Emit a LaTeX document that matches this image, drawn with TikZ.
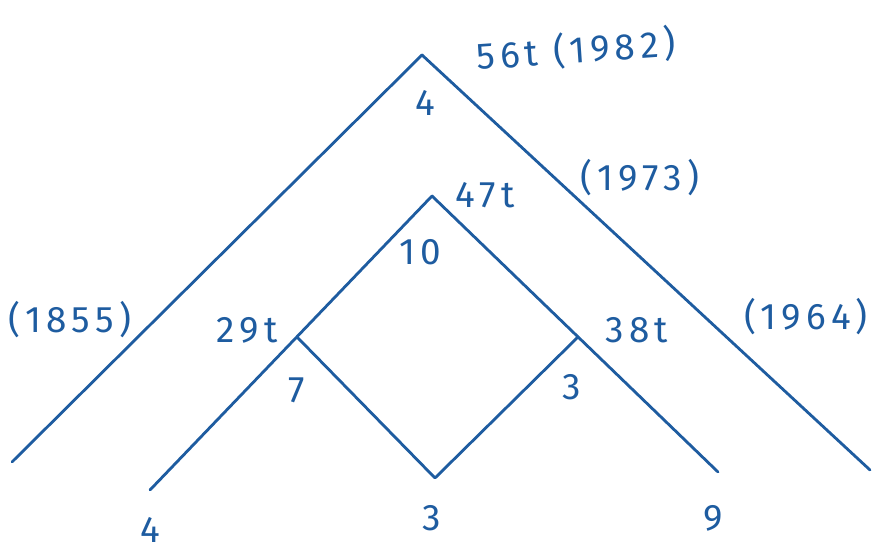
\documentclass[tikz,border=0pt]{standalone}
\usepackage{fontspec}
\setmainfont{Fira Sans}[LetterSpace=14]
\usepackage{tikz}
\usepackage{tkz-euclide}
\usepackage{xcolor}
\definecolor{ink}{RGB}{30,92,160}
\tikzset{
  lbl/.style = {text=ink, font=\fontsize{21}{25}\selectfont, inner sep=0pt}
}

\begin{document}
\begin{tikzpicture}[scale = 1.0]
            \useasboundingbox (0,0) rectangle (17.72,11.04);
            \tkzDefPoints{8.44/9.94/A, 0.24/1.80/L, 17.40/1.64/R}
            \tkzDefPoints{8.64/7.12/B, 3.00/1.24/C, 14.36/1.60/D}
            \tkzDefPoints{5.94/4.30/E, 8.70/1.48/F, 11.56/4.30/G}
            \tkzDrawSegments[ink, line width=1.6pt, line cap=round](A,L A,R)
            \tkzDrawSegments[ink, line width=1.6pt, line cap=round](B,C B,D)
            \tkzDrawSegments[ink, line width=1.6pt, line cap=round](E,F F,G)
            \node[lbl, rotate=4] (top)  at (11.52,10.04) {56t (1982)};
            \node[lbl] (four)   at (8.50,8.98)  {4};
            \node[lbl] (y1973)  at (12.80,7.48) {(1973)};
            \node[lbl] (inner)  at (9.70,7.14)  {47t};
            \node[lbl] (ten)    at (8.40,6.00)  {10};
            \node[lbl] (y1855)  at (1.40,4.64)  {(1855)};
            \node[lbl] (left)   at (4.94,4.44)  {29t};
            \node[lbl] (right)  at (12.74,4.44) {38t};
            \node[lbl] (y1964)  at (16.12,4.70) {(1964)};
            \node[lbl] (seven)  at (5.94,3.24)  {7};
            \node[lbl] (three)  at (11.44,3.30) {3};
            \node[lbl] (endC)   at (3.00,0.44)  {4};
            \node[lbl] (endF)   at (8.64,0.68)  {3};
            \node[lbl] (endD)   at (14.26,0.68) {9};
        \end{tikzpicture}
\end{document}
